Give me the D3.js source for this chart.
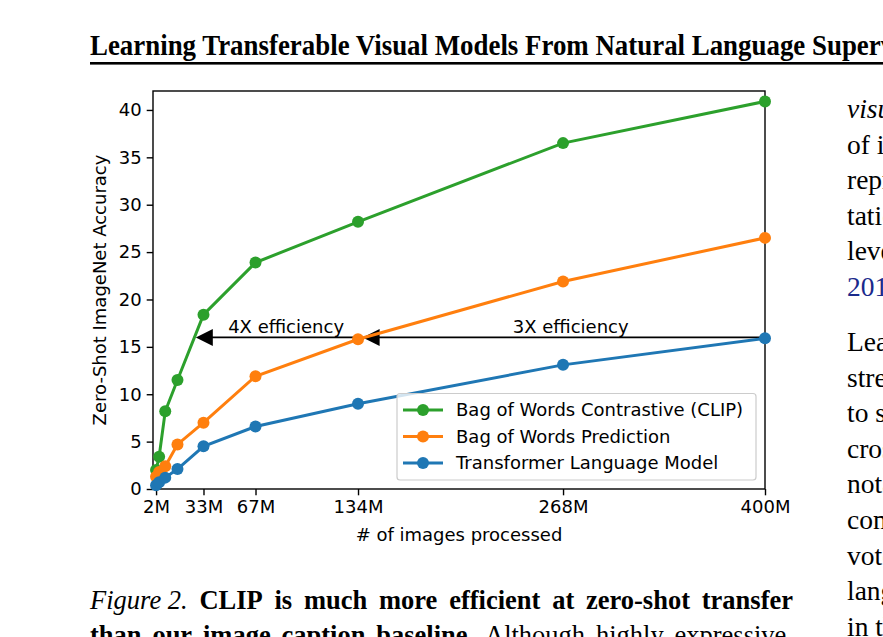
<!DOCTYPE html>
<html>
<head>
<meta charset="utf-8">
<script src="https://cdn.jsdelivr.net/npm/d3@7"></script>
<style>
  body { margin: 0; background: #fff; overflow: hidden; }
  svg { display: block; }
</style>
</head>
<body>
<div id="page"></div>
<script>
// values
var images = [2, 4, 8, 16, 33, 67, 134, 268, 400];          // millions of images
var clipAcc = [2.0, 3.4, 8.2, 11.5, 18.4, 23.9, 28.2, 36.5, 40.9];
var bowAcc  = [1.3, 1.8, 2.4, 4.7, 7.0, 11.9, 15.8, 21.9, 26.5];
var tlmAcc  = [0.4, 0.7, 1.2, 2.1, 4.5, 6.6, 9.0, 13.1, 15.9];
var seriesNames = ["Bag of Words Contrastive (CLIP)", "Bag of Words Prediction", "Transformer Language Model"];
var xTicks = [2, 33, 67, 134, 268, 400];
var xTickLabels = ["2M", "33M", "67M", "134M", "268M", "400M"];
var yTicks = [0, 5, 10, 15, 20, 25, 30, 35, 40];
// efficiency arrows: from, to (tip), level, label position
var arrowFrom = [134, 400];
var arrowTo = [28, 137];
var arrowLevel = 16;
var arrowLabels = ["4X efficiency", "3X efficiency"];
var arrowLabelX = [87, 273];

var headerText = "Learning Transferable Visual Models From Natural Language Supervision";
var sideLines = ["visual", "of it", "repre", "tation", "level", "2019", "Learning", "strength", "to scale", "cross", "notable", "common", "vote", "language", "in the"];

drawPage();

function drawPage() {
    var w = 883, h = 637;
    var svg = d3.select("#page").append("svg")
        .attr("width", w)
        .attr("height", h);

    var serif = "'Liberation Serif', 'Times New Roman', serif";
    var sans = "'DejaVu Sans', sans-serif";

    // ---- page header, squeezed so that "...Super" ends at the right edge
    var hdr = svg.append("text")
        .attr("x", 0).attr("y", 0)
        .style("font-family", serif).style("font-weight", "bold").style("font-size", "29px")
        .text("Learning Transferable Visual Models From Natural Language Super");
    var hw = hdr.node().getComputedTextLength();
    var sx = 791 / hw;
    hdr.text(headerText)
        .attr("transform", "translate(90,55) scale(" + sx + ",1)");

    svg.append("rect")
        .attr("x", 90).attr("y", 62)
        .attr("width", w - 90).attr("height", 2.6)
        .style("fill", "black");

    // ---- right column text
    sideLines.forEach(function(t, i) {
        var y = i < 6 ? 118 + i * 35.6 : 351 + (i - 6) * 35.6;
        svg.append("text")
            .attr("x", 847).attr("y", y)
            .style("font-family", serif).style("font-size", "27.5px")
            .style("font-style", i == 0 ? "italic" : "normal")
            .style("fill", i == 5 ? "#1a2a8c" : "black")
            .text(t);
    });

    // ---- caption (justified)
    function justifyLine(words, x0, x1, y) {
        var g = svg.append("g");
        var nodes = words.map(function(wd) {
            return g.append("text")
                .attr("y", y)
                .style("font-family", serif).style("font-size", "26.5px")
                .style("font-weight", wd.b ? "bold" : "normal")
                .style("font-style", wd.i ? "italic" : "normal")
                .text(wd.t);
        });
        var total = d3.sum(nodes, function(n) { return n.node().getComputedTextLength(); });
        var gap = (x1 - x0 - total) / (nodes.length - 1);
        var x = x0;
        nodes.forEach(function(n) {
            n.attr("x", x);
            x += n.node().getComputedTextLength() + gap;
        });
    }
    function words(str, b, i) {
        return str.split(" ").map(function(t) { return {t: t, b: b, i: i}; });
    }
    justifyLine([{t: "Figure\u00a02.", b: false, i: true}].concat(words("CLIP is much more efficient at zero-shot transfer", true, false)), 90, 793, 609);
    justifyLine(words("than our image caption baseline.", true, false).concat(words("Although highly expressive,", false, false)), 90, 793, 644);

    // ---- chart
    var mLeft = 153, mRight = 765, mTop = 91, mBottom = 489;
    var xScale = d3.scaleLinear().domain([0, 400]).range([mLeft, mRight]);
    var yScale = d3.scaleLinear().domain([0, 42]).range([mBottom, mTop]);

    var xAxis = d3.axisBottom(xScale).tickValues(xTicks)
        .tickFormat(function(d, i) { return xTickLabels[i]; })
        .tickSize(6.3).tickPadding(5);
    var yAxis = d3.axisLeft(yScale).tickValues(yTicks)
        .tickSize(6.3).tickPadding(5);

    var gx = svg.append("g")
        .attr("transform", "translate(0," + mBottom + ")")
        .call(xAxis);
    var gy = svg.append("g")
        .attr("transform", "translate(" + mLeft + ",0)")
        .call(yAxis);
    [gx, gy].forEach(function(g) {
        g.select(".domain").remove();
        g.selectAll("line").style("stroke", "black").style("stroke-width", 1.4);
        g.selectAll("text").style("font-family", sans).style("font-size", "18px").style("fill", "black");
    });

    svg.append("rect")
        .attr("x", mLeft).attr("y", mTop)
        .attr("width", mRight - mLeft).attr("height", mBottom - mTop)
        .style("fill", "none").style("stroke", "black").style("stroke-width", 1.4);

    svg.append("text")
        .attr("x", (mLeft + mRight) / 2).attr("y", 541)
        .attr("text-anchor", "middle")
        .style("font-family", sans).style("font-size", "18px")
        .text("# of images processed");

    svg.append("text")
        .attr("transform", "translate(106," + ((mTop + mBottom) / 2) + ") rotate(-90)")
        .attr("text-anchor", "middle")
        .style("font-family", sans).style("font-size", "18px")
        .text("Zero-Shot ImageNet Accuracy");

    // arrows
    arrowFrom.forEach(function(a, i) {
        var x0 = xScale(a), x1 = xScale(arrowTo[i]), y = yScale(arrowLevel);
        svg.append("line")
            .attr("x1", x0).attr("x2", x1 + 10).attr("y1", y).attr("y2", y)
            .style("stroke", "black").style("stroke-width", 1.6);
        svg.append("path")
            .attr("d", "M" + x1 + "," + y + "L" + (x1 + 17) + "," + (y - 8.5) + "L" + (x1 + 17) + "," + (y + 8.5) + "Z")
            .style("fill", "black");
        svg.append("text")
            .attr("x", xScale(arrowLabelX[i])).attr("y", y - 4)
            .attr("text-anchor", "middle")
            .style("font-family", sans).style("font-size", "18px")
            .text(arrowLabels[i]);
    });

    var colors = ["#2ca02c", "#ff7f0e", "#1f77b4"];
    var allSeries = [clipAcc, bowAcc, tlmAcc];
    var line = d3.line()
        .x(function(d) { return xScale(d[0]); })
        .y(function(d) { return yScale(d[1]); });

    allSeries.forEach(function(vals, s) {
        var pts = images.map(function(x, i) { return [x, vals[i]]; });
        svg.append("path")
            .datum(pts)
            .attr("d", line)
            .style("fill", "none")
            .style("stroke", colors[s])
            .style("stroke-width", 3);
        svg.selectAll(".pt" + s)
            .data(pts)
            .enter()
                .append("circle")
                .attr("class", "pt" + s)
                .attr("cx", function(d) { return xScale(d[0]); })
                .attr("cy", function(d) { return yScale(d[1]); })
                .attr("r", 6)
                .style("fill", colors[s]);
    });

    // legend
    var lg = svg.append("g");
    lg.append("rect")
        .attr("x", 397).attr("y", 393.5)
        .attr("width", 359).attr("height", 86.5)
        .attr("rx", 3)
        .style("fill", "white").style("fill-opacity", 0.8)
        .style("stroke", "#cccccc").style("stroke-width", 1.2);
    seriesNames.forEach(function(name, i) {
        var y = 410 + i * 26.5;
        lg.append("line")
            .attr("x1", 403).attr("x2", 443).attr("y1", y).attr("y2", y)
            .style("stroke", colors[i]).style("stroke-width", 3);
        lg.append("circle")
            .attr("cx", 423).attr("cy", y).attr("r", 6)
            .style("fill", colors[i]);
        lg.append("text")
            .attr("x", 456).attr("y", y)
            .attr("dy", "0.35em")
            .style("font-family", sans).style("font-size", "18px")
            .text(name);
    });
}
</script>
</body>
</html>
